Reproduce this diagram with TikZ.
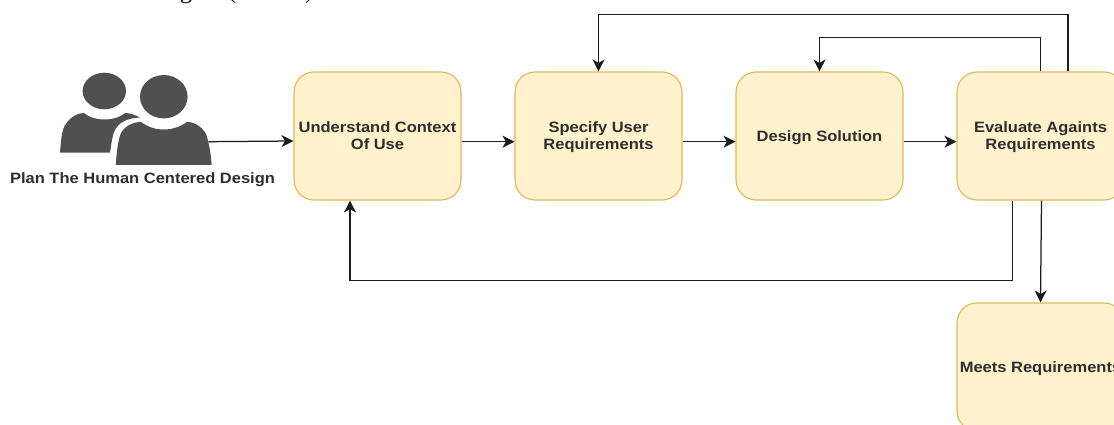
\documentclass[tikz,border=0pt]{standalone}
\usepackage{fontspec}
\setmainfont{Liberation Sans}
\newfontfamily\serifpart{Liberation Serif}
\newfontfamily\labelfont[FakeStretch=1.1]{Liberation Sans}
\usetikzlibrary{arrows.meta,calc}
\definecolor{boxfill}{HTML}{FFF2CC}
\definecolor{boxline}{HTML}{D9B95F}
\definecolor{icon}{HTML}{505050}
\definecolor{ink}{HTML}{2E2E2E}
\definecolor{wire}{HTML}{1C1C1C}
\tikzset{
  stepbox/.style={draw=boxline,fill=boxfill,line width=1.1pt,rounded corners=20pt,
    minimum width=167pt,minimum height=128pt,inner sep=0pt,align=center,
    font=\labelfont\fontsize{15}{17}\selectfont\bfseries,text=ink,text depth=0pt},
  link/.style={draw=wire,line width=1.25pt,-{Stealth[length=12pt,width=12pt,inset=3.5pt]}},
  caption/.style={inner sep=0pt,font=\labelfont\fontsize{15}{17}\selectfont\bfseries,text=ink},
  cropped/.style={inner sep=0pt,anchor=base,font=\serifpart\fontsize{24}{24}\selectfont},
  person/.style={fill=icon,draw=none}
}
\begin{document}
\begin{tikzpicture}[x=1pt,y=-1pt]
\useasboundingbox (0,0) rectangle (1114,425);
\clip (0,0) rectangle (1114,425);
\fill[white] (0,0) rectangle (1114,425);
% cropped line of text at the top edge
\node[cropped] (frag1) at (186,-1) {g};
\node[cropped] (frag2) at (232,-1) {(};
\node[cropped] (frag3) at (309,-1) {)};
% people icon
\fill[person] (104.3,91) ellipse [x radius=21.7,y radius=18.3];
\fill[person] (60,152.7) .. controls (61,140) and (62,128) .. (66,124) .. controls (70,117) and (78,113) .. (84,113)
  .. controls (90,118) and (97,119.5) .. (104.5,119.5) .. controls (112,119.5) and (119,118) .. (125,113)
  .. controls (130,113) and (135,115) .. (140,117.5) .. controls (128,118) and (118,122) .. (114,132)
  .. controls (112,138) and (111,146) .. (110,152.7) -- cycle;
\fill[person] (163.8,96.7) ellipse [x radius=23.8,y radius=21.7];
\fill[person] (115.7,165) .. controls (117,150) and (118,140) .. (121,133) .. controls (125,126) and (133,122) .. (141,122)
  .. controls (148,127) and (155,129.5) .. (164,129.5) .. controls (172,129.5) and (180,127) .. (187,122)
  .. controls (195,122) and (202,127) .. (206,134) .. controls (209,142) and (210.5,152) .. (211.7,165) -- cycle;
\coordinate (people) at (208.5,141.7);
\node[caption] (plan) at (142.5,179.5) {Plan The Human Centered Design};
% boxes
\node[stepbox] (a) at (377.5,136) {Understand Context\\Of Use};
\node[stepbox] (b) at (598.5,136) {Specify User\\Requirements};
\node[stepbox] (c) at (819.5,136) {Design Solution};
\node[stepbox] (d) at (1040.5,136) {Evaluate Againts\\Requirements};
\node[stepbox] (e) at (1040.5,367) {Meets Requirements};
% connectors
\draw[link] (people) -- ($(a.west)+(0,5)$);
\draw[link] ($(a.east)+(0,5.7)$) -- ($(b.west)+(0,5.7)$);
\draw[link] ($(b.east)+(0,5.7)$) -- ($(c.west)+(0,5.7)$);
\draw[link] ($(c.east)+(0,5.7)$) -- ($(d.west)+(0,5.7)$);
\draw[link] (d.north) -- ++(0,-34.3) -| (c.north);
\draw[link] ($(d.north)+(27.5,0)$) -- ++(0,-57) -| (b.north);
\draw[link] ($(d.south)+(-27.8,0)$) -- ++(0,80) -| ($(a.south)+(-27.5,0)$);
\draw[link] ($(d.south)+(1,0)$) -- (e.north);
\end{tikzpicture}
\end{document}
